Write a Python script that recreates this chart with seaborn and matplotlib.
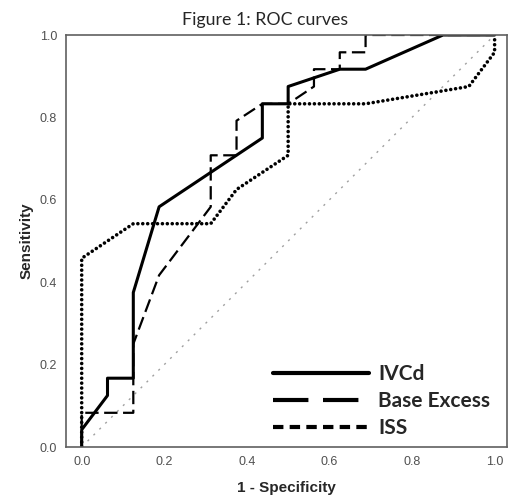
import matplotlib
matplotlib.use("Agg")
import matplotlib.pyplot as plt
import seaborn as sns
from matplotlib.lines import Line2D

# ROC curve points (1 - specificity, sensitivity)
ivcd_fpr = [0, 0, 0.0625, 0.0625, 0.125, 0.125, 0.1875, 0.4375, 0.4375, 0.5, 0.5, 0.625, 0.6875, 0.875, 1.0]
ivcd_tpr = [0, 0.042, 0.125, 0.167, 0.167, 0.375, 0.583, 0.75, 0.833, 0.833, 0.875, 0.917, 0.917, 1.0, 1.0]

be_fpr = [0, 0, 0.125, 0.125, 0.1875, 0.3125, 0.3125, 0.375, 0.375, 0.4375, 0.5, 0.5625,
          0.5625, 0.625, 0.625, 0.6875, 0.6875, 1.0]
be_tpr = [0, 0.083, 0.083, 0.25, 0.417, 0.583, 0.708, 0.708, 0.792, 0.833, 0.833, 0.875,
          0.917, 0.917, 0.958, 0.958, 1.0, 1.0]

iss_fpr = [0, 0, 0.125, 0.3125, 0.375, 0.5, 0.5, 0.6875, 0.9375, 1.0, 1.0]
iss_tpr = [0, 0.458, 0.542, 0.542, 0.625, 0.708, 0.833, 0.833, 0.875, 0.958, 1.0]

ref_line = [0, 1]

legend_labels = ["IVCd", "Base Excess", "ISS"]
ticks = [0.0, 0.2, 0.4, 0.6, 0.8, 1.0]

sns.set_style("white")

fig = plt.figure(figsize=(5.09, 4.97), dpi=100)
ax = fig.add_axes([66 / 509, 50 / 497, 441 / 509, 412 / 497])

# chance line
sns.lineplot(x=ref_line, y=ref_line, ax=ax, color="#a0a0a0", linewidth=1.0,
             linestyle=(0, (1.5, 4.5)), estimator=None, sort=False)

# ISS (dotted)
sns.lineplot(x=iss_fpr, y=iss_tpr, ax=ax, color="black", linewidth=2.6,
             linestyle=(0, (0.01, 1.35)), dash_capstyle="round",
             estimator=None, sort=False)

# Base Excess (dashed)
sns.lineplot(x=be_fpr, y=be_tpr, ax=ax, color="black", linewidth=1.6,
             linestyle=(0, (6, 2.5)), estimator=None, sort=False)

# IVCd (solid)
sns.lineplot(x=ivcd_fpr, y=ivcd_tpr, ax=ax, color="black", linewidth=2.2,
             estimator=None, sort=False)

ax.set_xlim(-0.038, 1.03)
ax.set_ylim(0, 1)
ax.set_xticks(ticks)
ax.set_yticks(ticks)
ax.set_xticklabels([f"{t:.1f}" for t in ticks])
ax.set_yticklabels([f"{t:.1f}" for t in ticks])

for s in ax.spines.values():
    s.set_color("#606060")
    s.set_linewidth(1.2)

ax.tick_params(axis="both", direction="out", length=4.5, width=1.0, color="#606060",
               labelsize=9, labelcolor="#505050", pad=2)
for lbl in ax.get_xticklabels() + ax.get_yticklabels():
    lbl.set_family("Liberation Sans")

ax.set_xlabel("1 - Specificity", fontsize=11, fontweight="bold",
              family="Liberation Sans", labelpad=9)
ax.set_ylabel("Sensitivity", fontsize=11, fontweight="bold",
              family="Liberation Sans", labelpad=4)

fig.text(265 / 509, 1 - 20 / 497, "Figure 1: ROC curves", ha="center", va="center",
         fontsize=12.8, family="Lato")

handles = [
    Line2D([], [], color="black", linewidth=3.0, linestyle="-"),
    Line2D([], [], color="black", linewidth=3.0, linestyle=(0, (8.5, 3.5))),
    Line2D([], [], color="black", linewidth=3.0, linestyle=(0, (2.5, 1.5))),
]
ax.legend(handles, legend_labels, loc="lower left", bbox_to_anchor=(0.469, 0.022),
          frameon=False, borderpad=0, borderaxespad=0, handlelength=4.6,
          handletextpad=0.45, labelspacing=0.33,
          prop={"family": "Lato", "weight": "bold", "size": 15})

fig.savefig("out.png", dpi=100)
